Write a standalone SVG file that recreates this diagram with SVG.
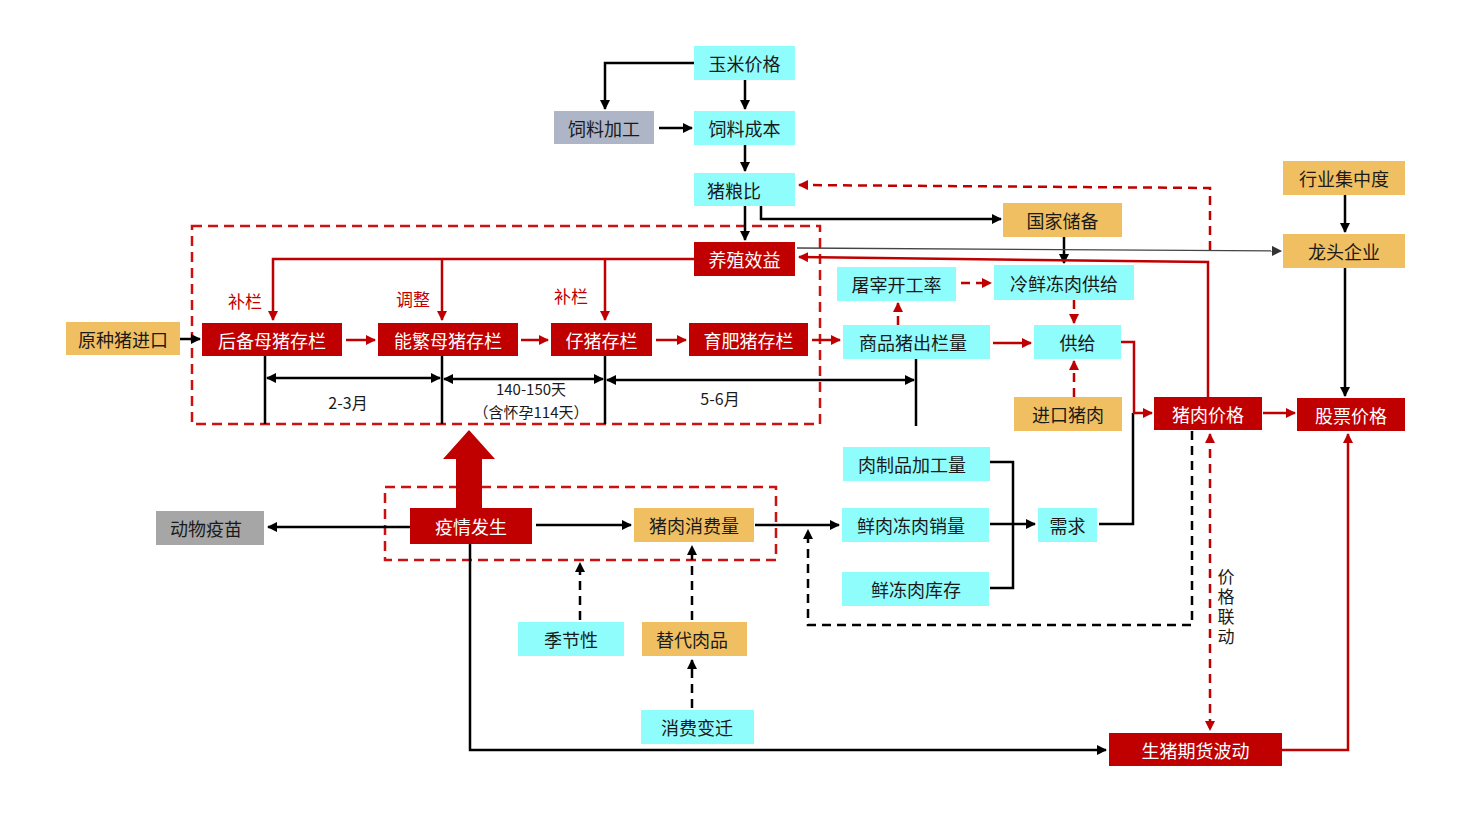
<svg xmlns="http://www.w3.org/2000/svg" width="1476" height="830" viewBox="0 0 1476 830">
<defs>
<marker id="ab" viewBox="0 0 10 10" refX="9" refY="5" markerWidth="4" markerHeight="4" orient="auto-start-reverse"><path d="M0,0 L10,5 L0,10 z" fill="#000"/></marker>
<marker id="ar" viewBox="0 0 10 10" refX="9" refY="5" markerWidth="4" markerHeight="4" orient="auto-start-reverse"><path d="M0,0 L10,5 L0,10 z" fill="#C00000"/></marker>
<marker id="ag" viewBox="0 0 10 10" refX="9" refY="5" markerWidth="8" markerHeight="8" orient="auto"><path d="M0,0 L10,5 L0,10 z" fill="#333"/></marker>
</defs>
<style>
.c{fill:#8FFDFC}
.o{fill:#F0BF61}
.r{fill:#C00000}
.g{fill:#A6A6A6}
.gb{fill:#ADB5C6}
.t{font-family:"Noto Sans CJK SC","Noto Sans",sans-serif;font-size:18px;fill:#1a1a1a;text-anchor:middle;dominant-baseline:central}
.w{fill:#fff}
.lbl{font-family:"Noto Sans CJK SC","Noto Sans",sans-serif;font-size:17px;fill:#C00000;text-anchor:middle;dominant-baseline:central}
.tm{font-family:"Noto Sans CJK SC","Noto Sans",sans-serif;font-size:16px;fill:#1a1a1a;text-anchor:middle;dominant-baseline:central}
.ts{font-family:"Noto Sans CJK SC","Noto Sans",sans-serif;font-size:15px;fill:#1a1a1a;text-anchor:middle;dominant-baseline:central}
.lb{stroke:#000;stroke-width:2.5;fill:none}
.lr{stroke:#C00000;stroke-width:2.5;fill:none}
.d{stroke-dasharray:9 6}
.box{fill:none;stroke:#D01010;stroke-width:2.5;stroke-dasharray:10 6}
</style>
<rect width="1476" height="830" fill="#fff"/>

<!-- dashed group boxes -->
<rect class="box" x="192" y="226" width="628" height="198"/>
<rect class="box" x="385" y="487" width="391" height="73"/>

<g id="connectors">
<!-- top chain -->
<path class="lb" d="M694,63 H605 V109" marker-end="url(#ab)"/>
<path class="lb" d="M745,80 V109" marker-end="url(#ab)"/>
<path class="lb" d="M659,128 H692" marker-end="url(#ab)"/>
<path class="lb" d="M745,145 V171" marker-end="url(#ab)"/>
<path class="lb" d="M745,206 V240" marker-end="url(#ab)"/>
<path class="lb" d="M761,206 V219 H1001" marker-end="url(#ab)"/>
<path class="lb" d="M1064,237 V263" marker-end="url(#ab)"/>
<path class="lb" d="M1345,195 V232" marker-end="url(#ab)"/>
<path class="lb" d="M1345,268 V396" marker-end="url(#ab)"/>
<!-- thin grey line to 龙头企业 -->
<path d="M797,248 L1281,251" stroke="#444" stroke-width="1.3" fill="none" marker-end="url(#ag)"/>
<!-- 猪肉价格 -> 养殖效益 -->
<path class="lr" d="M1208,397 V262 L799,257" marker-end="url(#ar)"/>
<!-- dashed feedback to 猪粮比 -->
<path class="lr d" d="M1210,250 V188 L799,185" marker-end="url(#ar)"/>
<!-- 养殖效益 -> stock boxes -->
<path class="lr" d="M694,259 H273 V320" marker-end="url(#ar)"/>
<path class="lr" d="M442,259 V320" marker-end="url(#ar)"/>
<path class="lr" d="M605,259 V320" marker-end="url(#ar)"/>
<!-- stock chain -->
<path class="lb" d="M180,339 H200" marker-end="url(#ab)"/>
<path class="lr" d="M346,340 H375" marker-end="url(#ar)"/>
<path class="lr" d="M521,340 H548" marker-end="url(#ar)"/>
<path class="lr" d="M656,340 H686" marker-end="url(#ar)"/>
<path class="lr" d="M812,340 H840" marker-end="url(#ar)"/>
<!-- timeline -->
<path class="lb" d="M265,356 V424 M442,356 V424 M605,356 V424 M916,359 V426"/>
<path class="lb" d="M267,378 H440" marker-start="url(#ab)" marker-end="url(#ab)"/>
<path class="lb" d="M444,379 H603" marker-start="url(#ab)" marker-end="url(#ab)"/>
<path class="lb" d="M607,380 H914" marker-start="url(#ab)" marker-end="url(#ab)"/>
<!-- supply side -->
<path class="lr d" d="M898,325 V303" marker-end="url(#ar)"/>
<path class="lr d" d="M961,283 H991" marker-end="url(#ar)"/>
<path class="lr d" d="M1074,300 V323" marker-end="url(#ar)"/>
<path class="lr d" d="M1074,397 V361" marker-end="url(#ar)"/>
<path class="lr" d="M993,343 H1031" marker-end="url(#ar)"/>
<path class="lb" d="M1099,524 H1133 V413"/>
<path class="lr" d="M1121,342 H1134 V413 H1152" marker-end="url(#ar)"/>
<path class="lr" d="M1263,413 H1295" marker-end="url(#ar)"/>
<!-- demand side -->
<path class="lb" d="M990,462 H1013 V588 H990"/>
<path class="lb" d="M990,524 H1035" marker-end="url(#ab)"/>
<path class="lb d" d="M1192,431 V625 H808 V530" marker-end="url(#ab)"/>
<path class="lr d" d="M1210,434 V730" marker-start="url(#ar)" marker-end="url(#ar)"/>
<path class="lr" d="M1282,750 H1348 V434" marker-end="url(#ar)"/>
<!-- epidemic -->
<path class="lb" d="M410,527 H268" marker-end="url(#ab)"/>
<path class="lb" d="M536,525 H631" marker-end="url(#ab)"/>
<path class="lb" d="M755,525 H839" marker-end="url(#ab)"/>
<path class="lb" d="M470,544 V750 H1106" marker-end="url(#ab)"/>
<path class="lb d" d="M580,620 V563" marker-end="url(#ab)"/>
<path class="lb d" d="M692,620 V546" marker-end="url(#ab)"/>
<path class="lb d" d="M692,708 V660" marker-end="url(#ab)"/>
<!-- big red arrow -->
<path d="M456,508 V459 H443 L469,430 L495,459 H482 V508 Z" fill="#C00000"/>
</g>

<g id="labels">
<text class="lbl" x="245" y="300">补栏</text>
<text class="lbl" x="413" y="298">调整</text>
<text class="lbl" x="571" y="295">补栏</text>
<text class="tm" x="348" y="402">2-3月</text>
<text class="ts" x="531" y="388">140-150天</text>
<text class="ts" x="531" y="411">（含怀孕114天）</text>
<text class="tm" x="720" y="398">5-6月</text>
<text class="tm" x="1226" y="608" writing-mode="vertical-rl" style="dominant-baseline:central;font-size:17px" letter-spacing="3">价格联动</text>
</g>

<g id="n-corn"><rect class="c" x="694" y="46" width="101" height="34"/><text class="t" x="744.5" y="63">玉米价格</text></g>
<g id="n-feedproc"><rect class="gb" x="554" y="111" width="100" height="33"/><text class="t" x="604" y="127.5">饲料加工</text></g>
<g id="n-feedcost"><rect class="c" x="694" y="111" width="101" height="34"/><text class="t" x="744.5" y="128">饲料成本</text></g>
<g id="n-ratio"><rect class="c" x="694" y="173" width="101" height="33"/><text class="t" x="734" y="189.5">猪粮比</text></g>
<g id="n-profit"><rect class="r" x="694" y="242" width="101" height="34"/><text class="t w" x="744.5" y="259">养殖效益</text></g>
<g id="n-reserve"><rect class="o" x="1003" y="203" width="119" height="34"/><text class="t" x="1062.5" y="220">国家储备</text></g>
<g id="n-concentration"><rect class="o" x="1283" y="161" width="122" height="34"/><text class="t" x="1344" y="178">行业集中度</text></g>
<g id="n-leader"><rect class="o" x="1283" y="234" width="122" height="34"/><text class="t" x="1344" y="251">龙头企业</text></g>
<g id="n-breedimport"><rect class="o" x="66" y="322" width="114" height="33"/><text class="t" x="123" y="338.5">原种猪进口</text></g>
<g id="n-gilts"><rect class="r" x="202" y="323" width="140" height="33"/><text class="t w" x="272" y="339.5">后备母猪存栏</text></g>
<g id="n-sows"><rect class="r" x="378" y="323" width="140" height="33"/><text class="t w" x="448" y="339.5">能繁母猪存栏</text></g>
<g id="n-piglets"><rect class="r" x="551" y="323" width="101" height="33"/><text class="t w" x="601.5" y="339.5">仔猪存栏</text></g>
<g id="n-finishing"><rect class="r" x="689" y="323" width="119" height="33"/><text class="t w" x="748.5" y="339.5">育肥猪存栏</text></g>
<g id="n-slaughter"><rect class="c" x="837" y="267" width="119" height="34"/><text class="t" x="896.5" y="284">屠宰开工率</text></g>
<g id="n-coldsupply"><rect class="c" x="994" y="265" width="140" height="35"/><text class="t" x="1064" y="282.5">冷鲜冻肉供给</text></g>
<g id="n-marketpigs"><rect class="c" x="843" y="325" width="147" height="34"/><text class="t" x="913" y="342">商品猪出栏量</text></g>
<g id="n-supply"><rect class="c" x="1034" y="325" width="87" height="34"/><text class="t" x="1077.5" y="342">供给</text></g>
<g id="n-porkimport"><rect class="o" x="1014" y="397" width="108" height="34"/><text class="t" x="1068" y="414">进口猪肉</text></g>
<g id="n-porkprice"><rect class="r" x="1154" y="397" width="108" height="33"/><text class="t w" x="1208" y="413.5">猪肉价格</text></g>
<g id="n-stockprice"><rect class="r" x="1297" y="398" width="108" height="33"/><text class="t w" x="1351" y="414.5">股票价格</text></g>
<g id="n-processing"><rect class="c" x="843" y="447" width="147" height="34"/><text class="t" x="912" y="464">肉制品加工量</text></g>
<g id="n-sales"><rect class="c" x="842" y="508" width="147" height="34"/><text class="t" x="911" y="525">鲜肉冻肉销量</text></g>
<g id="n-demand"><rect class="c" x="1038" y="508" width="59" height="34"/><text class="t" x="1067.5" y="525">需求</text></g>
<g id="n-inventory"><rect class="c" x="842" y="572" width="147" height="34"/><text class="t" x="916" y="589">鲜冻肉库存</text></g>
<g id="n-vaccine"><rect class="g" x="156" y="511" width="108" height="34"/><text class="t" x="206" y="528">动物疫苗</text></g>
<g id="n-epidemic"><rect class="r" x="410" y="508" width="122" height="36"/><text class="t w" x="471" y="526">疫情发生</text></g>
<g id="n-consumption"><rect class="o" x="634" y="508" width="120" height="34"/><text class="t" x="694" y="525">猪肉消费量</text></g>
<g id="n-season"><rect class="c" x="518" y="622" width="106" height="34"/><text class="t" x="571" y="639">季节性</text></g>
<g id="n-substitute"><rect class="o" x="642" y="622" width="105" height="34"/><text class="t" x="692" y="639">替代肉品</text></g>
<g id="n-change"><rect class="c" x="641" y="710" width="113" height="34"/><text class="t" x="697" y="727">消费变迁</text></g>
<g id="n-futures"><rect class="r" x="1109" y="733" width="173" height="33"/><text class="t w" x="1195.5" y="749.5">生猪期货波动</text></g>
</svg>
